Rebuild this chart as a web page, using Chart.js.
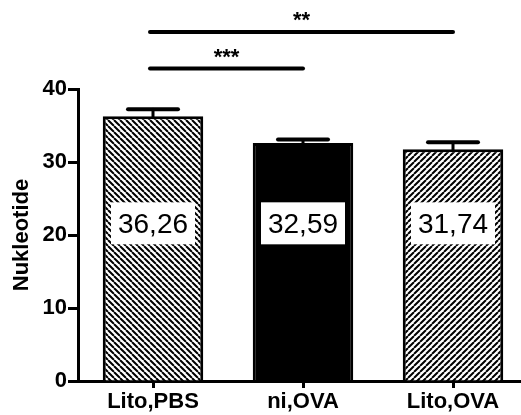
<!DOCTYPE html>
<html>
<head>
<meta charset="utf-8">
<script src="https://cdn.jsdelivr.net/npm/chart.js@4/dist/chart.umd.min.js"></script>
<style>
  html, body { margin: 0; padding: 0; background: #fff; overflow: hidden; }
  #wrap { width: 521px; height: 415px; overflow: hidden; }
</style>
</head>
<body>
<div id="wrap"><canvas id="grafica" width="530" height="415"></canvas></div>
<script>
var categorias = ['Lito,PBS', 'ni,OVA', 'Lito,OVA'];
var medias = [36.26, 32.59, 31.74];
var errores = [0.95, 0.5, 0.95];
var etiquetas = ['36,26', '32,59', '31,74'];
var yTicks = [0, 10, 20, 30, 40];

// comparaciones de significancia
var sigDesde = [0, 0];
var sigHasta = [2, 1];
var sigNivel = [47.8, 42.8];
var sigTexto = ['**', '***'];

function patron(tipo) {
    var s = 6;
    var c = document.createElement('canvas');
    c.width = s; c.height = s;
    var g = c.getContext('2d');
    g.fillStyle = '#fff';
    g.fillRect(0, 0, s, s);
    g.strokeStyle = '#000';
    g.lineWidth = 2;
    g.beginPath();
    for (var x0 = -s; x0 <= s; x0 += s) {
        if (tipo == 'back') {
            g.moveTo(x0, 0); g.lineTo(x0 + s, s);
        } else {
            g.moveTo(x0, s); g.lineTo(x0 + s, 0);
        }
    }
    g.stroke();
    return document.getElementById('grafica').getContext('2d').createPattern(c, 'repeat');
}

var extras = {
    id: 'extras',
    afterDatasetsDraw: function(chart) {
        var ctx = chart.ctx;
        var xs = chart.scales.x, ys = chart.scales.y;
        var meta = chart.getDatasetMeta(0);
        ctx.save();
        // barras de error
        ctx.strokeStyle = '#000';
        ctx.lineCap = 'round';
        for (var i = 0; i < medias.length; i++) {
            var cx = meta.data[i].x;
            var y0 = ys.getPixelForValue(medias[i]);
            var y1 = ys.getPixelForValue(medias[i] + errores[i]);
            ctx.lineWidth = 3;
            ctx.beginPath(); ctx.moveTo(cx, y0); ctx.lineTo(cx, y1); ctx.stroke();
            ctx.lineWidth = 4;
            ctx.beginPath(); ctx.moveTo(cx - 25, y1); ctx.lineTo(cx + 25, y1); ctx.stroke();
        }
        // etiquetas de valor
        ctx.font = '28px Arial, "Liberation Sans", sans-serif';
        ctx.textAlign = 'center';
        ctx.textBaseline = 'middle';
        var ly = ys.getPixelForValue(21.6);
        for (var j = 0; j < etiquetas.length; j++) {
            var bx = meta.data[j].x;
            ctx.fillStyle = '#fff';
            ctx.fillRect(bx - 42, ly - 21, 84, 42);
            ctx.fillStyle = '#000';
            ctx.fillText(etiquetas[j], bx, ly + 2);
        }
        // lineas de significancia
        ctx.lineWidth = 4;
        ctx.textBaseline = 'alphabetic';
        ctx.font = 'bold 22px Arial, "Liberation Sans", sans-serif';
        for (var k = 0; k < sigTexto.length; k++) {
            var xa = xs.getPixelForValue(sigDesde[k]) - 3;
            var xb = xs.getPixelForValue(sigHasta[k]);
            var yl = ys.getPixelForValue(sigNivel[k]);
            ctx.beginPath(); ctx.moveTo(xa, yl); ctx.lineTo(xb, yl); ctx.stroke();
            ctx.fillText(sigTexto[k], (xa + xb) / 2, yl - 5);
        }
        ctx.restore();
    }
};

var gra = document.getElementById('grafica').getContext('2d');
var chart = new Chart(gra, {
    type: 'bar',
    data: {
        labels: categorias,
        datasets: [{
            data: medias,
            backgroundColor: [patron('back'), '#000', patron('fwd')],
            borderColor: '#000',
            borderWidth: 3,
            barPercentage: 0.67,
            categoryPercentage: 1
        }]
    },
    options: {
        responsive: false,
        animation: false,
        devicePixelRatio: 1,
        layout: { padding: { top: 89, left: 9, right: 2, bottom: 0 } },
        plugins: { legend: { display: false }, tooltip: { enabled: false } },
        scales: {
            x: {
                offset: true,
                afterFit: function(s) { s.height = 34; },
                grid: { offset: false, drawOnChartArea: false, tickLength: 7, tickWidth: 3, tickColor: '#000' },
                border: { color: '#000', width: 3 },
                ticks: { color: '#000', padding: 1, font: { family: 'Arial, "Liberation Sans", sans-serif', size: 22, weight: 'bold' } }
            },
            y: {
                min: 0,
                max: 40,
                afterFit: function(s) { s.width = 69; },
                afterBuildTicks: function(s) { s.ticks = yTicks.map(function(v) { return { value: v }; }); },
                grid: { drawOnChartArea: false, tickLength: 10, tickWidth: 3, tickColor: '#000' },
                border: { color: '#000', width: 3 },
                ticks: { color: '#000', padding: 1, font: { family: 'Arial, "Liberation Sans", sans-serif', size: 22, weight: 'bold' } },
                title: {
                    display: true,
                    text: 'Nukleotide',
                    color: '#000',
                    padding: 0,
                    font: { family: 'Arial, "Liberation Sans", sans-serif', size: 22, weight: 'bold' }
                }
            }
        }
    },
    plugins: [extras]
});
</script>
</body>
</html>
